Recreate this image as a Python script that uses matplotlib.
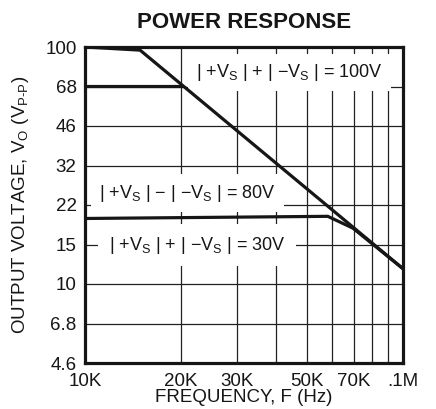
import numpy as np
import matplotlib
matplotlib.use("Agg")
import matplotlib.pyplot as plt
from matplotlib.ticker import FixedLocator, NullLocator

plt.rcParams['font.family'] = ['Liberation Sans', 'DejaVu Sans']
plt.rcParams['mathtext.fontset'] = 'custom'
plt.rcParams['mathtext.rm'] = 'Liberation Sans'
plt.rcParams['mathtext.it'] = 'Liberation Sans'

# Data (frequency in kHz, voltage in V p-p)
f_100v = [10, 14.9, 100]
v_100v = [100, 97, 11.6]
f_80v = [10, 20]
v_80v = [68.5, 68.5]
f_30v = [10, 58, 69.6, 100]
v_30v = [18.9, 19.3, 17.2, 11.6]

x_ticks = [10, 20, 30, 50, 70, 100]
x_ticklabels = ['10K', '20K', '30K', '50K', '70K', '.1M']
x_grid = [20, 30, 40, 50, 60, 70, 80, 90]
y_ticklabels = ['4.6', '6.8', '10', '15', '22', '32', '46', '68', '100']
y_ticks = [100 * 10 ** ((i - 8) / 6) for i in range(len(y_ticklabels))]

INK = '#161616'
fs = 13.5

fig = plt.figure(figsize=(4.36, 4.09), dpi=100)
ax = fig.add_axes([85 / 436, 1 - 363 / 409, 318 / 436, 316 / 409])
ax.set_xscale('log')
ax.set_yscale('log')
ax.set_xlim(10, 100)
ax.set_ylim(y_ticks[0], y_ticks[-1])

for gx in x_grid:
    ax.axvline(gx, color='#222222', lw=0.9, zorder=1)
for gy in y_ticks[1:-1]:
    ax.axhline(gy, color='#222222', lw=0.9, zorder=1)

lw = 2.3
ax.plot(f_100v, v_100v, color=INK, lw=lw, zorder=4, solid_joinstyle='miter')
ax.plot(f_80v, v_80v, color=INK, lw=lw, zorder=4)
ax.plot(f_30v, v_30v, color=INK, lw=lw, zorder=4, solid_joinstyle='miter')

ax.xaxis.set_major_locator(FixedLocator(x_ticks))
ax.xaxis.set_minor_locator(NullLocator())
ax.set_xticklabels(x_ticklabels)
ax.yaxis.set_major_locator(FixedLocator(y_ticks))
ax.yaxis.set_minor_locator(NullLocator())
ax.set_yticklabels(y_ticklabels)
ax.tick_params(length=0, labelsize=fs, colors=INK)
ax.tick_params(axis='x', pad=7)
ax.tick_params(axis='y', pad=6)

for s in ax.spines.values():
    s.set_linewidth(2.3)
    s.set_color(INK)
    s.set_zorder(5)

ax.set_xlabel('FREQUENCY, F (Hz)', fontsize=fs, color=INK, va='center')
ax.xaxis.set_label_coords(0.5, (363 - 398) / 316)
ax.set_ylabel(r'OUTPUT VOLTAGE, V$_\mathregular{O}$ (V$_\mathregular{P\text{-}P}$)',
              fontsize=fs, color=INK, va='center')
ax.yaxis.set_label_coords((21 - 85) / 318, 0.5)
ax.set_title('POWER RESPONSE', fontsize=16, fontweight='bold', pad=14, color=INK)

fs_in = 13
bbox = dict(boxstyle='square,pad=0.45', facecolor='white', edgecolor='none')
ax.text(44, 78, r'| +V$_\mathregular{S}$ | + | −V$_\mathregular{S}$ | = 100V', fontsize=fs_in,
        ha='center', va='center', bbox=bbox, zorder=3, color=INK)
ax.text(21, 24.2, r'| +V$_\mathregular{S}$ | − | −V$_\mathregular{S}$ | = 80V', fontsize=fs_in,
        ha='center', va='center', bbox=bbox, zorder=3, color=INK)
ax.text(22.5, 14.6, r'| +V$_\mathregular{S}$ | + | −V$_\mathregular{S}$ | = 30V', fontsize=fs_in,
        ha='center', va='center', bbox=dict(boxstyle='square,pad=0.6', facecolor='white',
                                             edgecolor='none'), zorder=3, color=INK)

fig.savefig('out.png', dpi=100)
